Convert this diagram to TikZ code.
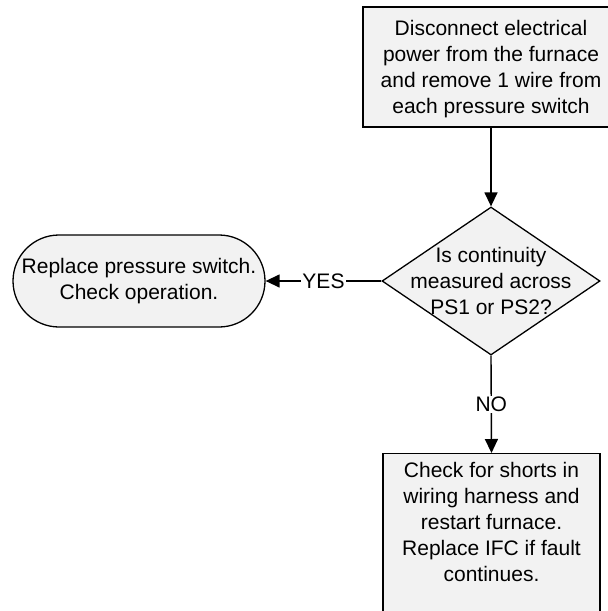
\documentclass[tikz,border=0pt]{standalone}
\usepackage{fontspec}
\setmainfont{Liberation Sans}
\usetikzlibrary{arrows.meta,shapes.geometric}
\definecolor{boxfill}{HTML}{F2F2F2}
\begin{document}
\begin{tikzpicture}[x=1pt,y=-1pt,
  every node/.style={font=\fontsize{21}{26}\selectfont},
  procbox/.style={draw=black, line width=1.3pt, fill=boxfill, rectangle, inner sep=0pt},
  decision/.style={draw=black, line width=1.3pt, fill=boxfill, diamond, inner sep=0pt},
  terminal/.style={draw=black, line width=1.3pt, fill=boxfill, rectangle, rounded corners=46pt, inner sep=0pt},
  txt/.style={align=center, inner sep=0pt},
  flow/.style={line width=1.4pt, -{Triangle[length=14pt,width=13pt]}},
  lbl/.style={fill=white, inner sep=1pt}]
\useasboundingbox (0,0) rectangle (608,611);
\begin{scope}
\clip (0,0) rectangle (608,611);
\node[procbox, minimum width=256pt, minimum height=120pt] (top) at (491,67) {};
\node[txt] (toptxt) at (491,69) {Disconnect electrical\\power from the furnace\\and remove 1 wire from\\each pressure switch};
\node[decision, minimum width=218pt, minimum height=148pt] (dec) at (491,281) {};
\node[txt] (dectxt) at (491,281) {Is continuity\\measured across\\PS1 or PS2?};
\node[terminal, minimum width=252pt, minimum height=92pt] (term) at (139,281) {};
\node[txt] (termtxt) at (139,281) {Replace pressure switch.\\Check operation.};
\node[procbox, minimum width=217pt, minimum height=180pt, anchor=north] (bot) at (491.5,453) {};
\node[txt] (bottxt) at (491.5,522) {Check for shorts in\\wiring harness and\\restart furnace.\\Replace IFC if fault\\continues.};
\end{scope}
\draw[flow] (top.south) -- (dec.north);
\draw[flow] (dec.west) -- node[lbl] (yes) {YES} (term.east);
\draw[flow] (dec.south) -- node[lbl] (no) {NO} (bot.north);
\end{tikzpicture}
\end{document}
